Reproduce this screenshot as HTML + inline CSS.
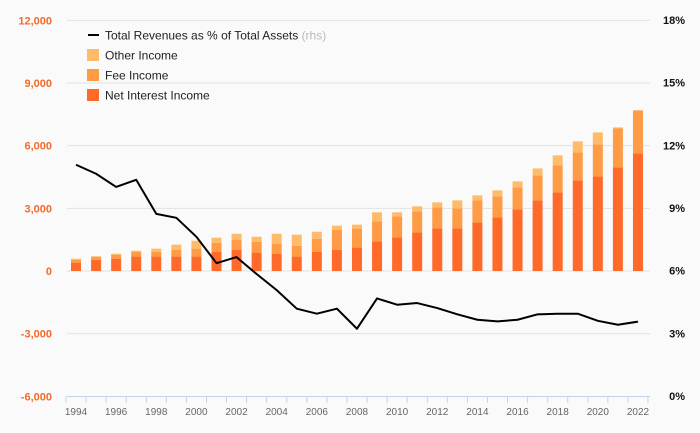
<!DOCTYPE html>
<html><head><meta charset="utf-8"><style>
body{margin:0;background:#fafafa;font-family:"Liberation Sans",sans-serif}
svg text{font-family:"Liberation Sans",sans-serif}
</style></head><body>
<svg id="c" width="700" height="433" xmlns="http://www.w3.org/2000/svg" style="display:block;background:#fafafa"></svg>
<script>
const years=[1994,1995,1996,1997,1998,1999,2000,2001,2002,2003,2004,2005,2006,2007,2008,2009,2010,2011,2012,2013,2014,2015,2016,2017,2018,2019,2020,2021,2022];
const netInterest=[400,540,590,690,690,690,690,925,1020,880,830,690,925,1020,1120,1420,1610,1850,2040,2040,2330,2570,2950,3380,3765,4340,4530,4960,5630];
const feeIncome=[140,150,190,235,235,330,380,430,480,520,480,520,620,955,910,955,1005,1005,1005,960,1050,1000,1055,1200,1290,1340,1530,1865,2060];
const otherIncome=[50,10,50,45,145,240,380,240,285,240,475,530,335,195,190,435,195,240,240,380,240,290,285,330,480,525,575,50,0];
const revPct=[11.07,10.64,10.01,10.35,8.72,8.53,7.62,6.36,6.65,5.84,5.07,4.18,3.94,4.18,3.22,4.67,4.37,4.45,4.21,3.91,3.65,3.57,3.65,3.91,3.94,3.94,3.60,3.41,3.56];
const leftTicks=[-6000,-3000,0,3000,6000,9000,12000];
const leftLabels=["-6,000","-3,000","0","3,000","6,000","9,000","12,000"];
const rightTicks=[0,3,6,9,12,15,18];
const rightLabels=["0%","3%","6%","9%","12%","15%","18%"];
const svg=document.getElementById('c');const NS="http://www.w3.org/2000/svg";
function el(t,a,p){const e=document.createElementNS(NS,t);for(const k in a)e.setAttribute(k,a[k]);(p||svg).appendChild(e);return e;}
const yL=v=>271-(v/3000)*62.67;
const yR=v=>396-(v/18)*376;
const xS=yr=>76+(yr-1994)*20.07;
// grid & left ticks
leftTicks.forEach((v,i)=>{
  if(v>-6000){const g=el('line',{x1:67,x2:650,y1:yL(v),y2:yL(v),stroke:'#e2e2e2','stroke-width':1});
  
  }
  const t=el('text',{x:52,y:yL(v)+4,'text-anchor':'end','font-size':11,fill:'#f26b2a','font-weight':'bold'});t.textContent=leftLabels[i];
  
  
});
rightTicks.forEach((v,i)=>{
  const t=el('text',{x:685,y:yR(v)+4,'text-anchor':'end','font-size':11,fill:'#111','font-weight':'bold'});t.textContent=rightLabels[i];
  
  
});
// x axis
const ax=el('line',{x1:67,x2:650,y1:396.5,y2:396.5,stroke:'#c6d2ea','stroke-width':1});


years.forEach((yr,i)=>{
  const x=xS(yr)-10;
  el('line',{x1:x,x2:x,y1:396,y2:403,stroke:'#c6d2ea'});
  if(i%2===0){const t=el('text',{x:xS(yr),y:415,'text-anchor':'middle','font-size':10,fill:'#666'});t.textContent=yr;
  
  }
});
el('line',{x1:xS(2022)+10,x2:xS(2022)+10,y1:396,y2:403,stroke:'#c6d2ea'});
// bars
years.forEach((yr,i)=>{
  const x=xS(yr)-5;let base=0;
  [[netInterest,'#ff6a2a','bar-net-interest'],[feeIncome,'#ff9a45','bar-fee'],[otherIncome,'#ffbb6a','bar-other']].forEach(([arr,c,n])=>{
    const v=arr[i];const r=el('rect',{x:x,width:10,y:yL(base+v),height:yL(base)-yL(base+v),fill:c});
    
    
    base+=v;
  });
});
// line
const pts=years.map((yr,i)=>xS(yr)+','+yR(revPct[i])).join(' ');
const pl=el('polyline',{points:pts,fill:'none',stroke:'#000','stroke-width':2,'stroke-linejoin':'round'});


// legend
const lg=el('g',{});


el('line',{x1:88,x2:99,y1:35,y2:35,stroke:'#000','stroke-width':2},lg);
const t0=el('text',{x:105,y:39.5,'font-size':12,fill:'#222'},lg);
t0.innerHTML='Total Revenues as % of Total Assets <tspan fill="#bbb">(rhs)</tspan>';
[['Other Income','#ffbb6a',55],['Fee Income','#ff9a45',75],['Net Interest Income','#ff6a2a',95]].forEach(([n,c,y])=>{
  el('rect',{x:87,y:y-6,width:12,height:12,fill:c},lg);
  const t=el('text',{x:105,y:y+4.5,'font-size':12,fill:'#222'},lg);t.textContent=n;
  
  
});
</script>
</body></html>
